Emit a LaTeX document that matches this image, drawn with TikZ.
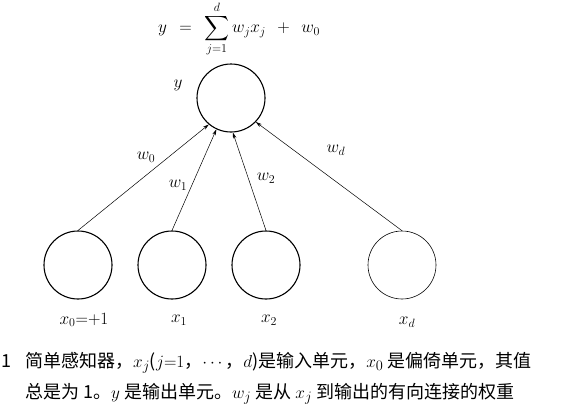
\documentclass[tikz,border=0pt]{standalone}
\usepackage{amsmath}
\usepackage{fontspec}
\newfontfamily\cjk{Noto Sans CJK SC}
\usetikzlibrary{arrows.meta}
\newcommand{\capmath}[1]{{\fontsize{19}{20}\selectfont$#1$}}
\tikzset{
  unit/.style={circle,draw,line width=1.1pt,minimum size=68pt,inner sep=0pt},
  thinunit/.style={unit,line width=0.6pt},
  conn/.style={line width=0.5pt,-{Stealth[length=6pt,width=3.5pt]}},
  lbl/.style={font=\fontsize{18}{20}\selectfont,inner sep=0pt},
  captext/.style={font=\fontsize{18}{19}\selectfont\cjk,anchor=base west,inner sep=0pt}
}
\begin{document}
\begin{tikzpicture}[x=1pt,y=-1pt]
		\useasboundingbox (0,0) rectangle (568,416);
		\node[lbl] (eq) at (239,29) {$\displaystyle y \;\,=\;\, \sum_{j=1}^{d} w_j x_j \;\,+\;\, w_0$};
		% units
		\node[unit] (y) at (231,98) {};
		\node[unit] (x0) at (78,265) {};
		\node[unit] (x1) at (172,265) {};
		\node[unit] (x2) at (266,265) {};
		\node[thinunit] (xd) at (402,265) {};
		% connections
		\draw[conn] (x0.north) to (y.230);
		\draw[conn] (x1.north) to (y.245);
		\draw[conn] (x2.north) to (y.273);
		\draw[conn] (xd.north) to (y.316);
		% labels
		\node[lbl] (ly) at (178,85) {$y$};
		\node[lbl] (lw0) at (146,157) {$w_0$};
		\node[lbl] (lw1) at (178,185) {$w_1$};
		\node[lbl] (lw2) at (266,178) {$w_2$};
		\node[lbl] (lwd) at (336,150) {$w_d$};
		\node[lbl] (lx0) at (84,320) {$x_0{=}{+}1$};
		\node[lbl] (lx1) at (179,320) {$x_1$};
		\node[lbl] (lx2) at (269,320) {$x_2$};
		\node[lbl] (lxd) at (407,322) {$x_d$};
		% caption
		\node[captext] (fig) at (1,367) {1};
		\node[captext] (cap1) at (25,367) {简单感知器，\capmath{x_j}(\capmath{j{=}1}，\capmath{\cdots}，\capmath{d})是输入单元，\capmath{x_0} 是偏倚单元，其值};
		\node[captext] (cap2) at (25,398) {总是为 1。\capmath{y} 是输出单元。\capmath{w_j} 是从 \capmath{x_j} 到输出的有向连接的权重};
	\end{tikzpicture}
\end{document}
